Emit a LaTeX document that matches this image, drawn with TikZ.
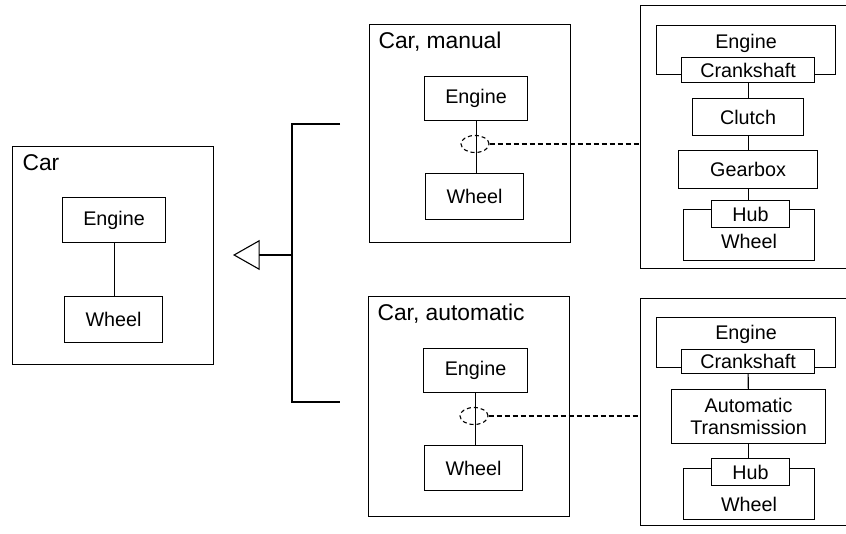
\documentclass[tikz,border=0pt]{standalone}
\usepackage{fontspec}
\setmainfont{Liberation Sans}
\usetikzlibrary{positioning,shapes.geometric,arrows.meta}
\newlength\px
\setlength\px{0.75pt}

\begin{document}
\begin{tikzpicture}[x=0.75pt,y=-0.75pt,line width=1.1\px,
  frame/.style={draw, rectangle, inner sep=0pt, anchor=north west},
  part/.style={draw, fill=white, rectangle, inner sep=0pt, anchor=north west,
    align=center, font=\fontsize{14.8pt}{16.2pt}\selectfont},
  title/.style={anchor=base west, inner sep=0pt, font=\fontsize{17.1pt}{20pt}\selectfont},
  joint/.style={draw, ellipse, inner sep=0pt, minimum width=28\px, minimum height=17\px,
    dash pattern=on 4\px off 3\px},
  link/.style={dash pattern=on 5\px off 3\px}]
\useasboundingbox (0,0) rectangle (846,534);
\clip (0,0) rectangle (846,534);

% containers
\node[frame, minimum width=201\px, minimum height=218\px] (car) at (12,146) {};
\node[frame, minimum width=201\px, minimum height=218\px] (man) at (369,24) {};
\node[frame, minimum width=201\px, minimum height=220\px] (auto) at (368,296) {};
\node[frame, minimum width=240\px, minimum height=263\px] (manCol) at (640,5) {};
\node[frame, minimum width=240\px, minimum height=227\px] (autoCol) at (640,298) {};
\node[title] (carT) at (22,171) {Car};
\node[title] (manT) at (378,49) {Car, manual};
\node[title] (autoT) at (377,321) {Car, automatic};

% outer parts of the right column
\node[part, minimum width=179\px, text height=23\px, text depth=26\px] (mEngOut) at (656,25) {Engine};
\node[part, minimum width=131\px, text height=39\px, text depth=12\px] (mWhlOut) at (683,209) {Wheel};
\node[part, minimum width=179\px, text height=22\px, text depth=28\px] (aEngOut) at (656,317) {Engine};
\node[part, minimum width=131\px, text height=43\px, text depth=8\px] (aWhlOut) at (683,468) {Wheel};

\foreach \nm/\x/\y/\w/\h/\txt in {%
  carEng/62/197/103/45/Engine,%
  carWhl/64/296/98/46/Wheel,%
  mEng/424/76/103/44/Engine,%
  mWhl/425/173/98/46/Wheel,%
  aEng/423/348/104/44/Engine,%
  aWhl/424/445/98/45/Wheel,%
  mCrank/681/57/133/25/Crankshaft,%
  mClutch/692/98/111/37/Clutch,%
  mGear/678/150/139/38/Gearbox,%
  mHub/711/200/78/27/Hub,%
  aCrank/681/349/133/24/Crankshaft,%
  aTrans/671/389/154/54/{Automatic\\Transmission},%
  aHub/711/458/78/27/Hub%
}{
  \node[part, minimum width=\w\px, minimum height=\h\px] (\nm) at (\x,\y) {\txt};
}

\draw (carEng.south) -- (carEng.south |- carWhl.north);
\draw (mEng.south) -- (mEng.south |- mWhl.north);
\draw (aEng.south) -- (aEng.south |- aWhl.north);
\draw (mCrank) -- (mClutch);
\draw (mClutch) -- (mGear);
\draw (mGear.south) -- (mGear.south |- mHub.north);
\draw (aCrank) -- (aTrans);
\draw (aTrans.south) -- (aTrans.south |- aHub.north);

\node[joint] (mJoint) at (475,144) {};
\node[joint] (aJoint) at (474,416) {};
\draw[link] (mJoint.east) -- (mJoint.east -| manCol.west);
\draw[link] (aJoint.east) -- (aJoint.east -| autoCol.west);

% generalization
\coordinate (stubM) at (340,124);
\coordinate (stubA) at (340,402);
\coordinate (split) at (292,255);
\coordinate (gTip) at (233,255);
\draw (stubM) -| (split) |- (stubA);
\draw[-{Triangle[open, length=20pt, width=22.5pt]}] (split) -- (gTip);
\end{tikzpicture}
\end{document}
